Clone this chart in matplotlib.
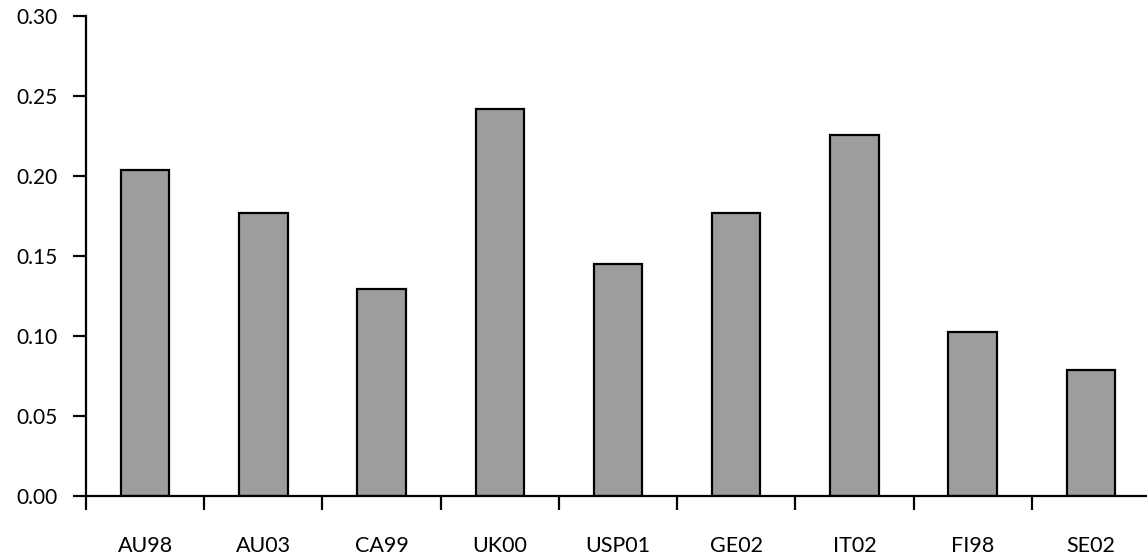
import matplotlib
matplotlib.use('Agg')
import matplotlib.pyplot as plt
import numpy as np

plt.rcParams['font.family'] = ['Lato', 'DejaVu Sans']

# Values
labels = ['AU98', 'AU03', 'CA99', 'UK00', 'USP01', 'GE02', 'IT02', 'FI98', 'SE02']
values = [0.2035, 0.177, 0.129, 0.2415, 0.145, 0.177, 0.2255, 0.1025, 0.0785]
yticks = [0.00, 0.05, 0.10, 0.15, 0.20, 0.25, 0.30]

x = np.arange(len(labels))

fig = plt.figure(figsize=(11.47, 5.6), dpi=100)
ax = fig.add_axes([86 / 1147, 64 / 560, 1064 / 1147, 480.5 / 560])

ax.bar(x, values, width=0.41, color='#9d9d9e', edgecolor='black', linewidth=1.6)

ax.set_xlim(-0.5, len(labels) - 0.5)
ax.set_ylim(0, 0.30)

ax.spines['top'].set_visible(False)
ax.spines['right'].set_visible(False)
ax.spines['left'].set_linewidth(1.6)
ax.spines['bottom'].set_linewidth(1.6)

ax.set_yticks(yticks)
ax.set_yticklabels([f'{v:.2f}' for v in yticks])
ax.tick_params(axis='y', length=9.5, width=1.6, pad=11, labelsize=15)

# boundary ticks between categories, labels centred under bars
ax.set_xticks(x - 0.5)
ax.set_xticklabels([])
ax.set_xticks(x, minor=True)
ax.set_xticklabels(labels, minor=True)
ax.tick_params(axis='x', which='major', length=10, width=1.6)
ax.tick_params(axis='x', which='minor', length=0, pad=29, labelsize=15.5)

fig.savefig('out.png', dpi=100)
